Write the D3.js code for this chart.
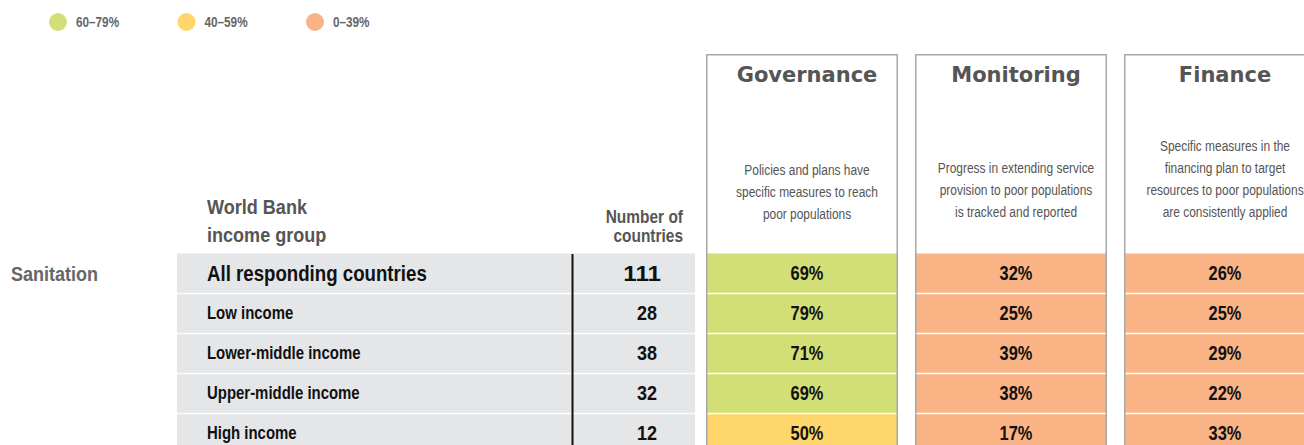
<!DOCTYPE html>
<html><head><meta charset="utf-8">
<script src="https://cdn.jsdelivr.net/npm/d3@7"></script>
<style>
body{margin:0;background:#fff;}
svg{display:block;}
text{font-family:"Liberation Sans",Arial,sans-serif;}
.hd{font-family:"DejaVu Sans",Verdana,sans-serif;font-weight:bold;}
</style></head>
<body>
<svg id="chart" width="1304" height="445"></svg>
<script>
const groups = ["All responding countries","Low income","Lower-middle income","Upper-middle income","High income"];
const counts = [111, 28, 38, 32, 12];
const measures = ["Governance","Monitoring","Finance"];
const descriptions = [
  ["Policies and plans have","specific measures to reach","poor populations"],
  ["Progress in extending service","provision to poor populations","is tracked and reported"],
  ["Specific measures in the","financing plan to target","resources to poor populations","are consistently applied"]
];
const governance = [69, 79, 71, 69, 50];
const monitoring = [32, 25, 39, 38, 17];
const finance = [26, 25, 29, 22, 33];
const legendLabels = ["60–79%","40–59%","0–39%"];
const legendColors = ["#d1df76","#fed66b","#f9b385"];
const sectorLabel = "Sanitation";

const values = [governance, monitoring, finance];
const svg = d3.select("#chart");

const color = d3.scaleThreshold().domain([40, 60]).range([legendColors[2], legendColors[1], legendColors[0]]);

const y = d3.scaleBand().domain(groups).range([253.5, 453.5]).paddingInner(0);
const x = d3.scaleBand().domain(measures).range([706, 1316]).paddingInner(17 / 209).paddingOuter(0);

// condensed text helper (horizontal squeeze)
function txt(g, tx, ty, s, o) {
  return g.append("text")
    .attr("transform", `translate(${tx},${ty}) scale(${o.sx || 1},1)`)
    .attr("text-anchor", o.anchor || "start")
    .attr("font-size", o.size)
    .attr("font-weight", o.weight || "normal")
    .attr("fill", o.fill || "#111")
    .text(s);
}

// legend
const lg = svg.append("g");
legendLabels.forEach((l, i) => {
  const cx = 58 + i * 128.5;
  lg.append("circle").attr("cx", cx).attr("cy", 22).attr("r", 9).attr("fill", legendColors[i]);
  txt(lg, cx + 18, 27, l, {size: 14, weight: "bold", fill: "#666", sx: 0.84});
});

// sector label
txt(svg, 11, 281, sectorLabel, {size: 20, weight: "bold", fill: "#666", sx: 0.9});

// header
txt(svg, 207, 214, "World Bank", {size: 21, weight: "bold", fill: "#555", sx: 0.86});
txt(svg, 207, 242, "income group", {size: 21, weight: "bold", fill: "#555", sx: 0.86});
txt(svg, 683, 223, "Number of", {size: 18, weight: "bold", fill: "#555", sx: 0.86, anchor: "end"});
txt(svg, 683, 242, "countries", {size: 18, weight: "bold", fill: "#555", sx: 0.86, anchor: "end"});

// gray rows
const rowG = svg.append("g");
groups.forEach((g, i) => {
  const y0 = y(g);
  rowG.append("rect").attr("x", 177).attr("y", y0 + (i ? 0.75 : 0)).attr("width", 518).attr("height", y.bandwidth() - (i ? 1.5 : 0.75)).attr("fill", "#e5e6e8");
  const big = i === 0;
  txt(rowG, 207, y0 + y.bandwidth() / 2 + (big ? 7.5 : 5.5), g, {size: big ? 22.5 : 18, weight: "bold", sx: big ? 0.83 : 0.83});
  txt(rowG, big ? 661 : 657, y0 + y.bandwidth() / 2 + (big ? 7.5 : 6.5), counts[i], {size: big ? 22 : 20.5, weight: "bold", sx: big ? 1.1 : 0.88, anchor: "end"});
});
rowG.append("line").attr("x1", 572.5).attr("x2", 572.5).attr("y1", 254).attr("y2", 445).attr("stroke", "#111").attr("stroke-width", 2);

// measure boxes
measures.forEach((m, j) => {
  const x0 = x(m), w = x.bandwidth();
  const g = svg.append("g");
  groups.forEach((gr, i) => {
    const y0 = y(gr);
    g.append("rect").attr("x", x0).attr("y", y0 + (i ? 0.75 : 0)).attr("width", w).attr("height", y.bandwidth() - (i ? 1.5 : 0.75))
      .attr("fill", color(values[j][i]));
    txt(g, x0 + 101, y0 + y.bandwidth() / 2 + 6.5, values[j][i] + "%", {size: 20.5, weight: "bold", sx: 0.8, anchor: "middle"});
  });
  g.append("path").attr("d", `M${x0 + 0.75},445V54.75H${x0 + w - 0.75}V445`).attr("fill", "none").attr("stroke", "#a8a8a8").attr("stroke-width", 1.5);
  g.append("text").attr("class", "hd").attr("x", x0 + 101).attr("y", 82).attr("text-anchor", "middle")
    .attr("font-size", 21).attr("fill", "#555").text(m);
  const lines = descriptions[j];
  const base = j === 0 ? 219 : 217;
  lines.forEach((l, k) => {
    txt(g, x0 + 101, base - (lines.length - 1 - k) * 22, l, {size: 15.5, fill: "#555", sx: 0.77, anchor: "middle"});
  });
});
</script>
</body></html>
